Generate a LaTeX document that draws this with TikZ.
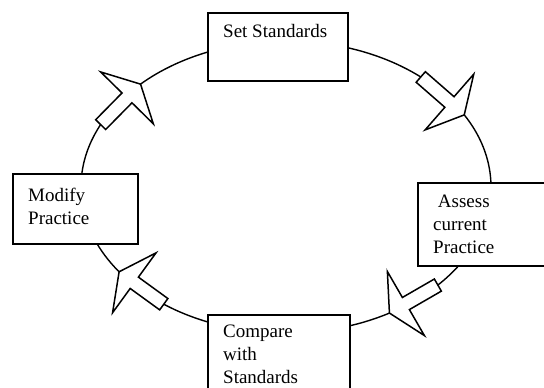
\documentclass[tikz,border=0pt]{standalone}
\usepackage{fontspec}
\setmainfont{Liberation Serif}
\usetikzlibrary{calc}

% hollow arrow lying on the ring: stem from #1, point at #2
\newcommand\cyclearrow[2]{%
  \draw[flowarrow]
    ($(#1)!7pt!90:(#2)$)
    -- ($(#1)!0.66!(#2)!7pt!90:(#2)$)
    -- ($(#1)!0.66!(#2)!37pt!90:(#2)$)
    -- (#2)
    -- ($(#1)!0.66!(#2)!37pt!-90:(#2)$)
    -- ($(#1)!0.66!(#2)!7pt!-90:(#2)$)
    -- ($(#1)!7pt!-90:(#2)$)
    -- cycle;}

\begin{document}
\begin{tikzpicture}[x=1pt,y=1pt,
  box/.style={draw, line width=1.8pt, fill=white, inner sep=0pt, anchor=north west},
  lbl/.style={inner sep=0pt, anchor=north west, align=left,
              font=\fontsize{19}{23}\selectfont},
  ring/.style={line width=1.4pt},
  flowarrow/.style={line width=1.5pt, fill=white, line join=miter}]
\useasboundingbox (0,0) rectangle (544,-388);

% the cycle
\coordinate (O) at (286,-187);
\draw[ring] (O) ellipse [x radius=205, y radius=146];

% points on the ring where the arrows sit
\coordinate (trS) at ($(O)+(48.9:205 and 146)$);
\coordinate (trT) at ($(O)+(29.6:205 and 146)$);
\coordinate (brS) at ($(O)+(-42.2:205 and 146)$);
\coordinate (brT) at ($(O)+(-59.7:205 and 146)$);
\coordinate (blS) at ($(O)+(233.4:205 and 146)$);
\coordinate (blT) at ($(O)+(215.5:205 and 146)$);
\coordinate (tlS) at ($(O)+(154.7:205 and 146)$);
\coordinate (tlT) at ($(O)+(135.2:205 and 146)$);

\cyclearrow{trS}{trT}
\cyclearrow{brS}{brT}
\cyclearrow{blS}{blT}
\cyclearrow{tlS}{tlT}

% stages
\node[box, minimum width=140, minimum height=68] (set) at (207,-12) {};
\node[box, minimum width=125, minimum height=70] (modify) at (12,-173) {};
\node[box, minimum width=135, minimum height=83] (assess) at (417,-182) {};
\node[box, minimum width=142, minimum height=90] (compare) at (207,-314) {};

\node[lbl] (setT) at (223,-24.6) {Set Standards};
\node[lbl] (modifyT) at (28,-187.9) {Modify\\Practice};
\node[lbl] (assessT) at (433,-194.6) {\hspace*{0.25em}Assess\\current\\Practice};
\node[lbl] (compareT) at (223,-324.6) {Compare\\with\\Standards};
\end{tikzpicture}
\end{document}
